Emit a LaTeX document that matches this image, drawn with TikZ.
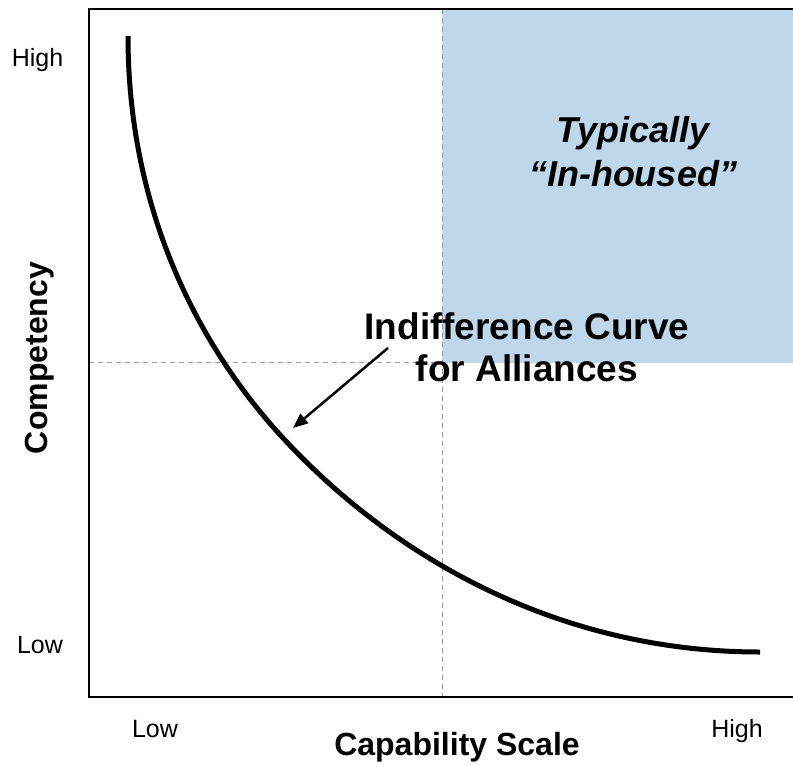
\documentclass[tikz,border=0pt]{standalone}
\usepackage{fontspec}
\setmainfont{Liberation Sans}
\usepackage{xcolor}
\usetikzlibrary{positioning,arrows.meta}
\definecolor{inblue}{RGB}{190,215,235}

\begin{document}
\begin{tikzpicture}[
		x=1pt, y=-1pt,
		ticklabel/.style = {font=\fontsize{25}{30}\selectfont, anchor=base, inner sep=0pt},
		axislabel/.style = {font=\fontsize{32}{38}\bfseries\selectfont, anchor=base, inner sep=0pt},
		note/.style = {font=\fontsize{37}{42}\bfseries\selectfont, align=center, inner sep=0pt},
		guide/.style = {draw, black!40, line width=1pt, dash pattern=on 5pt off 4pt},
		frame/.style = {draw, line width=2pt},
		curve/.style = {draw, line width=5pt},
		line/.style = {draw, line width=2.5pt, -{Triangle[length=15pt,width=12pt]}}
	]
	\useasboundingbox (0,0) rectangle (793,766);

	% Zona
	\fill [inblue] (442,9) rectangle (793,363);
	% Guías
	\draw [guide] (442,9) -- (442,697);
	\draw [guide] (89,362) -- (442,362);
	% Curva
	\coordinate (curvetop) at (128,36);
	\coordinate (curvemid) at (283,438);
	\coordinate (curveend) at (760,652);
	\draw [curve] (curvetop) .. controls (128,216) and (203,351.6) .. (curvemid)
		.. controls (395,559) and (560,652) .. (curveend);
	% Ejes
	\draw [frame] (793,9) -- (89,9) -- (89,697) -- (793,697);

	% Nodos
	\node [ticklabel] (highy) at (37.5,66) {High};
	\node [ticklabel] (lowy) at (40,653) {Low};
	\node [ticklabel] (lowx) at (155,737) {Low};
	\node [ticklabel] (highx) at (737,737) {High};
	\node [axislabel] (capability) at (457,755) {Capability Scale};
	\node [axislabel, rotate=90] (competency) at (47,358) {Competency};
	\node [note] (indifference) at (527,347.5) {Indifference Curve\\for Alliances};
	\node [note, font=\fontsize{36}{44}\bfseries\itshape\selectfont] (inhoused) at (633,151.7) {Typically\\“In-housed”};

	% Flecha
	\coordinate (arrowtail) at (388,348);
	\coordinate (arrowtip) at (293,428);
	\draw [line] (arrowtail) -- (arrowtip);
\end{tikzpicture}
\end{document}
